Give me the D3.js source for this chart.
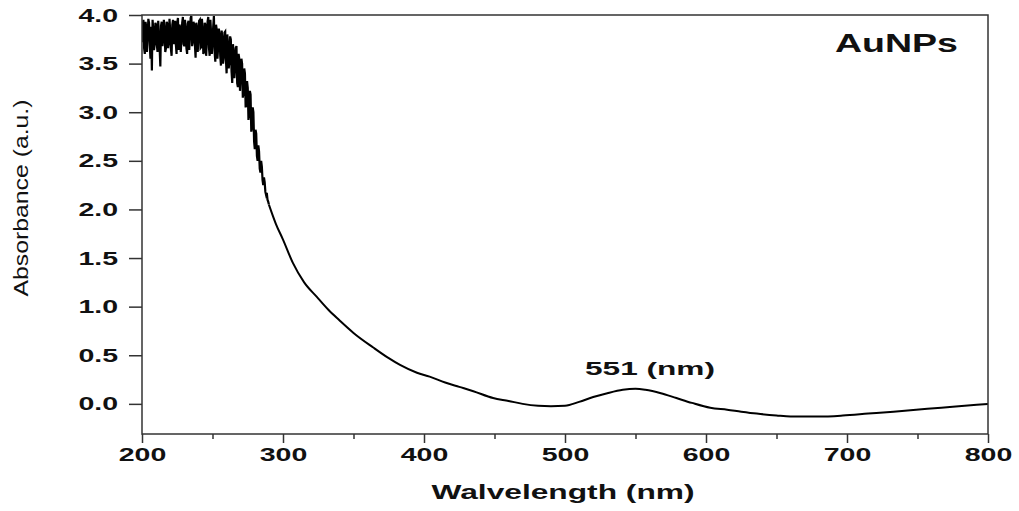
<!DOCTYPE html>
<html>
<head>
<meta charset="utf-8">
<script src="https://cdn.jsdelivr.net/npm/d3@7"></script>
<style>
  body { margin: 0; background: #fff; }
  svg text { font-family: "Liberation Sans", Arial, sans-serif; fill: #111; }
  .tick text { font-weight: bold; font-size: 19px; transform-box: fill-box; }
  .x-axis .tick text { transform-origin: center; transform: scaleX(1.5); }
  .y-axis .tick text { transform-origin: right center; transform: scaleX(1.5); }
</style>
</head>
<body>
<svg id="chart" width="1019" height="511"></svg>
<script>
// noisy region (whole nm)
var noisyWl = d3.range(200, 291);
var noisyAbs = [
    3.72, 3.95, 3.60, 3.88, 3.78, 3.92, 3.55, 3.43, 3.85, 3.70,
    3.90, 3.62, 3.80, 3.47, 3.93, 3.75, 3.86, 3.66, 3.91, 3.72,
    3.84, 3.58, 3.95, 3.78, 3.70, 3.92, 3.64, 3.88, 3.75, 3.98,
    3.68, 3.86, 3.60, 3.94, 3.80, 3.99, 3.72, 3.90, 3.56, 3.87,
    3.76, 3.95, 3.67, 3.85, 3.62, 3.90, 3.74, 3.98, 3.58, 3.82,
    3.70, 3.99, 3.52, 3.85, 3.66, 3.80, 3.48, 3.76, 3.57, 3.83,
    3.40, 3.70, 3.52, 3.75, 3.30, 3.62, 3.45, 3.68, 3.26, 3.55,
    3.38, 3.50, 3.20, 3.40, 3.08, 3.25, 2.98, 3.18, 2.85, 3.00,
    2.62, 2.78, 2.50, 2.60, 2.38, 2.44, 2.25, 2.28, 2.15, 2.10,
    2.05
];

// noisy region, half nm readings in between
var halfWl = d3.range(200.5, 290, 1);
var halfAbs = [
    3.90, 3.66, 3.93, 3.62, 3.96, 3.70, 3.88, 3.95, 3.64, 3.92,
    3.70, 3.94, 3.66, 3.89, 3.68, 3.95, 3.62, 3.93, 3.66, 3.96,
    3.65, 3.90, 3.70, 3.94, 3.60, 3.97, 3.90, 3.62, 3.92, 3.70,
    3.95, 3.66, 3.91, 3.64, 3.97, 3.68, 3.93, 3.70, 3.92, 3.62,
    3.94, 3.66, 3.96, 3.60, 3.92, 3.58, 3.93, 3.66, 3.95, 3.60,
    3.88, 3.62, 3.90, 3.55, 3.86, 3.58, 3.84, 3.50, 3.82, 3.55,
    3.80, 3.45, 3.78, 3.42, 3.70, 3.35, 3.66, 3.30, 3.60, 3.22,
    3.55, 3.15, 3.45, 3.05, 3.32, 2.92, 3.22, 2.80, 3.05, 2.70,
    2.82, 2.55, 2.66, 2.42, 2.50, 2.30, 2.33, 2.18, 2.17, 2.08
];

// smooth part of the spectrum
var smoothWl = [295, 300, 307, 315, 324, 332, 340, 350, 364, 375, 383, 395, 404, 415, 425,
    435, 449, 460, 470, 481, 490, 500, 510, 520, 530, 541, 550, 557, 568, 579, 590, 603,
    615, 625, 636, 650, 660, 680, 697, 715, 733, 757, 775, 792, 800];
var smoothAbs = [1.85, 1.69, 1.45, 1.25, 1.10, 0.97, 0.86, 0.73, 0.58, 0.47, 0.40, 0.32, 0.28, 0.22, 0.175,
    0.13, 0.06, 0.03, 0.0, -0.02, -0.025, -0.02, 0.02, 0.07, 0.11, 0.145, 0.155, 0.145, 0.11, 0.06, 0.01, -0.04,
    -0.06, -0.08, -0.10, -0.12, -0.13, -0.13, -0.12, -0.10, -0.08, -0.05, -0.03, -0.01, 0.0];

var xTicks = [200, 300, 400, 500, 600, 700, 800];
var xMinorTicks = [250, 350, 450, 550, 650, 750];
var yTicks = [0, 0.5, 1.0, 1.5, 2.0, 2.5, 3.0, 3.5, 4.0];

var svg = d3.select("#chart");
var plotLeft = 142, plotRight = 988, plotTop = 15, plotBottom = 434;

var x = d3.scaleLinear().domain([200, 800]).range([plotLeft, plotRight]);
var y = d3.scaleLinear().domain([-0.31, 4.0]).range([plotBottom, plotTop]);

svg.append("rect").attr("width", 1019).attr("height", 511).attr("fill", "#fff");

var noisy = [];
for (var i = 0; i < noisyWl.length; i++) noisy.push([noisyWl[i], noisyAbs[i]]);
for (var k = 0; k < halfWl.length; k++) noisy.push([halfWl[k], halfAbs[k]]);
noisy.sort(function (a, b) { return a[0] - b[0]; });

var smooth = [noisy[noisy.length - 1]];
for (var j = 0; j < smoothWl.length; j++) smooth.push([smoothWl[j], smoothAbs[j]]);

svg.append("clipPath").attr("id", "clip")
    .append("rect").attr("x", plotLeft).attr("y", plotTop)
    .attr("width", plotRight - plotLeft).attr("height", plotBottom - plotTop);

var line = d3.line().x(function (d) { return x(d[0]); }).y(function (d) { return y(d[1]); });

svg.append("path")
    .datum(noisy)
    .attr("clip-path", "url(#clip)")
    .attr("fill", "none")
    .attr("stroke", "#000")
    .attr("stroke-width", 2.2)
    .attr("d", line);

svg.append("path")
    .datum(smooth)
    .attr("clip-path", "url(#clip)")
    .attr("fill", "none")
    .attr("stroke", "#000")
    .attr("stroke-width", 2)
    .attr("d", line.curve(d3.curveMonotoneX));

// frame
svg.append("rect")
    .attr("x", plotLeft).attr("y", plotTop)
    .attr("width", plotRight - plotLeft).attr("height", plotBottom - plotTop)
    .attr("fill", "none").attr("stroke", "#333").attr("stroke-width", 1.5);

// axes
svg.append("g").attr("class", "y-axis")
    .attr("transform", "translate(" + plotLeft + ",0)")
    .call(d3.axisLeft(y).tickValues(yTicks).tickSize(13).tickPadding(11).tickFormat(d3.format(".1f")));

svg.append("g").attr("class", "x-axis")
    .attr("transform", "translate(0," + plotBottom + ")")
    .call(d3.axisBottom(x).tickValues(xTicks).tickSize(9).tickPadding(5).tickFormat(d3.format("d")));

svg.append("g")
    .attr("transform", "translate(0," + plotBottom + ")")
    .call(d3.axisBottom(x).tickValues(xMinorTicks).tickSize(5).tickFormat(""));

svg.selectAll(".domain").remove();
svg.selectAll(".tick line").attr("stroke", "#333").attr("stroke-width", 1.5);
svg.selectAll(".tick text").attr("fill", "#111");

// titles
svg.append("text")
    .attr("x", 563).attr("y", 499)
    .attr("text-anchor", "middle")
    .attr("font-weight", "bold").attr("font-size", 20)
    .attr("textLength", 263).attr("lengthAdjust", "spacingAndGlyphs")
    .text("Walvelength (nm)");

svg.append("text")
    .attr("transform", "translate(28,198) rotate(-90)")
    .attr("text-anchor", "middle")
    .attr("font-size", 20)
    .style("font-family", "'Liberation Sans Narrow', 'Liberation Sans', Arial, sans-serif")
    .attr("textLength", 197).attr("lengthAdjust", "spacingAndGlyphs")
    .text("Absorbance (a.u.)");

svg.append("text")
    .attr("x", 835).attr("y", 52)
    .attr("font-weight", "bold").attr("font-size", 25)
    .attr("textLength", 123).attr("lengthAdjust", "spacingAndGlyphs")
    .text("AuNPs");

svg.append("text")
    .attr("x", 585).attr("y", 375)
    .attr("font-weight", "bold").attr("font-size", 19)
    .attr("textLength", 130).attr("lengthAdjust", "spacingAndGlyphs")
    .text("551 (nm)");
</script>
</body>
</html>
